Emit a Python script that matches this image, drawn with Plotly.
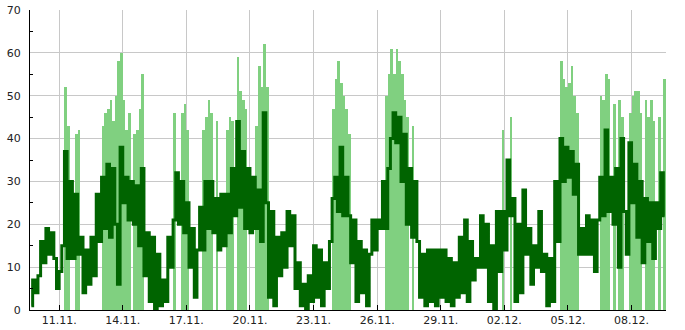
import pandas as pd
import plotly.graph_objects as go

N = None

# 3-hourly slots starting 09.11. 15:00 (wind speed, km/h)
speed = [
    1, 7, 4,                                # 09.11. 15-21h
    8, 16, 11, 19, 13, 18, 12, 5,           # 10.11.
    9, 15, 37, 12, 30, 12, 27, 13,          # 11.11.
    17, 4, 14, 6, 17, 8, 27, 16,            # 12.11.
    31, 19, 34, 17, 33, 20, 6, 38,          # 13.11.
    25, 31, 21, 30, 20, 29, 15, 33,         # 14.11.
    8, 18, 2, 17, 0, 13, 1, 7,              # 15.11.
    2, 17, 10, 21, 32, 20, 30, 18,          # 16.11.
    25, 10, 19, 3, 14, 24, 14, 30,          # 17.11.
    19, 30, 18, 26, 14, 27, 15, 27,         # 18.11.
    18, 33, 22, 44, 24, 37, 19, 33,         # 19.11.
    18, 31, 19, 28, 16, 46, 25, 3,          # 20.11.
    23, 1, 17, 8, 18, 10, 23, 15,           # 21.11.
    22, 5, 11, 1, 6, 0, 8, 2,               # 22.11.
    15, 3, 14, 1, 11, 5, 16, 26,            # 23.11.
    31, 23, 38, 22, 31, 22, 11, 21,         # 24.11.
    2, 16, 4, 14, 1, 13, 21, 14,            # 25.11.
    21, 19, 30, 19, 33, 40, 46, 39,         # 26.11.
    45, 30, 41, 20, 33, 17, 30, 16,         # 27.11.
    3, 13, 1, 14, 2, 14, 1, 14,             # 28.11.
    3, 14, 2, 12, 1, 11, 3, 17,             # 29.11.
    4, 21, 2, 16, 7, 12, 10, 22,            # 30.11.
    10, 20, 2, 15, 0, 23, 9, 23,            # 01.12.
    14, 35, 22, 26, 2, 20, 4, 28,           # 02.12.
    13, 19, 6, 15, 10, 23, 9, 13,           # 03.12.
    1, 12, 2, 30, 16, 40, 30, 38,           # 04.12.
    31, 37, 27, 34, 13, 19, 13, 22,         # 05.12.
    13, 21, 9, 21, 31, 22, 42, 23,          # 06.12.
    31, 20, 33, 10, 40, 23, 13, 39,         # 07.12.
    25, 34, 17, 30, 11, 26, 16, 25,         # 08.12.
    12, 25, 19, 32, 22,                     # 09.12. 0-12h
]

# gusts (km/h), only reported at times
gust = [
    N, N, N,
    N, N, N, N, N, N, N, N,                 # 10.11.
    N, N, 52, 43, N, N, 41, 42,             # 11.11.
    N, N, N, N, N, N, N, N,                 # 12.11.
    43, 46, 47, 49, 44, 50, 58, 60,         # 13.11.
    49, 42, 46, N, 41, 42, 47, 55,          # 14.11.
    N, N, N, N, N, N, N, N,                 # 15.11.
    N, N, N, 46, N, N, 46, 48,              # 16.11.
    42, N, N, N, N, N, 42, 45,              # 17.11.
    49, 46, N, 44, N, N, N, 42,             # 18.11.
    45, 44, N, 59, 51, 49, 47, N,           # 19.11.
    N, N, 43, 57, 52, 62, 52, N,            # 20.11.
    N, N, N, N, N, N, N, N,                 # 21.11.
    N, N, N, N, N, N, N, N,                 # 22.11.
    N, N, N, N, N, N, N, 47,                # 23.11.
    54, 58, 53, 50, 47, 41, N, N,           # 24.11.
    N, N, N, N, N, N, N, N,                 # 25.11.
    N, N, N, 50, 55, 61, 55, 61,            # 26.11.
    58, 55, 49, 45, N, 43, N, N,            # 27.11.
    N, N, N, N, N, N, N, N,                 # 28.11.
    N, N, N, N, N, N, N, N,                 # 29.11.
    N, N, N, N, N, N, N, N,                 # 30.11.
    N, N, N, N, N, N, N, 42,                # 01.12.
    N, N, 45, N, N, N, N, N,                # 02.12.
    N, N, N, N, N, N, N, N,                 # 03.12.
    N, N, N, N, N, 58, 54, 52,              # 04.12.
    53, 57, 50, 46, N, N, N, N,             # 05.12.
    N, N, N, N, 50, 49, 55, 54,             # 06.12.
    N, 48, N, 49, 45, N, N, 46,             # 07.12.
    50, 51, 51, 46, N, 49, 45, 49,          # 08.12.
    44, N, 45, N, 54,                       # 09.12.
]

tick_dates = ["2023-11-11", "2023-11-14", "2023-11-17", "2023-11-20", "2023-11-23",
              "2023-11-26", "2023-11-29", "2023-12-02", "2023-12-05", "2023-12-08"]
tick_labels = ["11.11.", "14.11.", "17.11.", "20.11.", "23.11.",
               "26.11.", "29.11.", "02.12.", "05.12.", "08.12."]

start = pd.Timestamp("2023-11-09 15:00")
times = pd.date_range(start, periods=len(speed), freq="3h") + pd.Timedelta(hours=1.5)
slot_ms = 3 * 3600 * 1000

fig = go.Figure()
fig.add_trace(go.Bar(
    x=times, y=gust, width=slot_ms,
    marker=dict(color="#80d080", line=dict(width=0)),
    hoverinfo="skip",
))
fig.add_trace(go.Scatter(
    x=times, y=speed, mode="lines",
    line=dict(color="#006400", width=3, shape="hvh"),
))

font = dict(family="DejaVu Sans", size=11, color="#222")
fig.update_layout(
    width=685, height=330,
    margin=dict(l=30, r=19, t=10, b=20, autoexpand=False),
    plot_bgcolor="white", paper_bgcolor="white",
    showlegend=False, bargap=0,
    font=font,
    xaxis=dict(
        type="date", automargin=False,
        range=[start, start + pd.Timedelta(days=30)],
        tickmode="array", tickvals=tick_dates, ticktext=tick_labels,
        ticks="inside", ticklen=5, tickcolor="black",
        showgrid=True, gridcolor="#c8c8c8", gridwidth=1,
        showline=True, linecolor="black", linewidth=1,
        zeroline=False, tickfont=font,
    ),
    yaxis=dict(
        range=[0, 70], dtick=10, tick0=0, automargin=False,
        ticks="", showgrid=True, gridcolor="#c8c8c8", gridwidth=1,
        showline=True, linecolor="black", linewidth=1,
        zeroline=False, tickfont=font, ticklabelstandoff=6,
        minor=dict(ticks="inside", ticklen=3, dtick=5, tickcolor="black", showgrid=False),
    ),
)

fig.write_html("out.html")
